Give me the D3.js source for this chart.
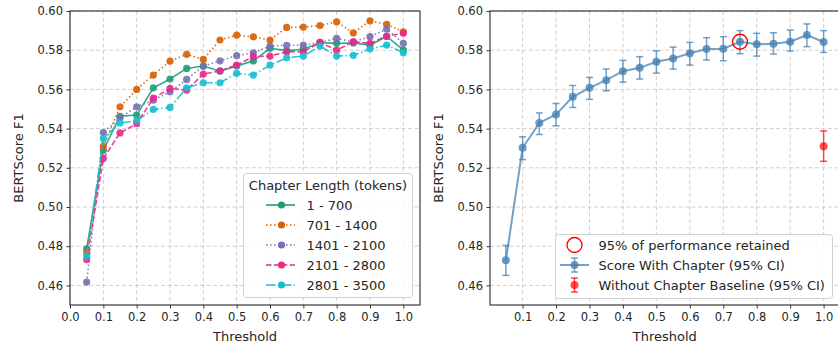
<!DOCTYPE html>
<html>
<head>
<meta charset="utf-8">
<script src="https://cdn.jsdelivr.net/npm/d3@7"></script>
<style>
  body { margin: 0; background: #fff; }
  svg { display: block; font-family: "DejaVu Sans", sans-serif; }
</style>
</head>
<body>
<svg id="chart" width="838" height="345"></svg>
<script>
// thresholds on the x axis
const thresholds = [0.05, 0.1, 0.15, 0.2, 0.25, 0.3, 0.35, 0.4, 0.45, 0.5,
                    0.55, 0.6, 0.65, 0.7, 0.75, 0.8, 0.85, 0.9, 0.95, 1.0];

// left panel: BERTScore by chapter length bucket
const lengthLabels = ['1 - 700', '701 - 1400', '1401 - 2100', '2101 - 2800', '2801 - 3500'];
const len1to700 = [0.4787, 0.529, 0.5463, 0.5469, 0.5608, 0.5653, 0.5707, 0.5719, 0.5693, 0.572,
                   0.5745, 0.581, 0.5798, 0.5805, 0.5838, 0.5835, 0.5837, 0.5826, 0.587, 0.5802];
const len701to1400 = [0.4765, 0.531, 0.5511, 0.560, 0.5673, 0.5744, 0.5779, 0.5753, 0.5852, 0.5877,
                      0.5868, 0.5852, 0.5916, 0.5918, 0.5926, 0.5945, 0.5888, 0.595, 0.5932, 0.5894];
const len1401to2100 = [0.4617, 0.538, 0.5455, 0.5511, 0.5545, 0.5588, 0.5651, 0.5719, 0.5746, 0.5772,
                       0.5787, 0.5821, 0.5825, 0.5826, 0.584, 0.586, 0.5843, 0.5869, 0.5908, 0.5835];
const len2101to2800 = [0.4731, 0.5247, 0.5378, 0.5425, 0.5555, 0.5605, 0.5596, 0.5678, 0.5695, 0.5724,
                       0.5767, 0.577, 0.5792, 0.5792, 0.584, 0.580, 0.5843, 0.5835, 0.5872, 0.5886];
const len2801to3500 = [0.4748, 0.535, 0.5429, 0.544, 0.5498, 0.5508, 0.5608, 0.5634, 0.5634, 0.5682,
                       0.5673, 0.5724, 0.5761, 0.577, 0.5821, 0.577, 0.5774, 0.5806, 0.5826, 0.5787];

// right panel: overall score with chapter and 95% CI
const scoreWithChapter = [0.4728, 0.5302, 0.5429, 0.5472, 0.5562, 0.5608, 0.5647, 0.5693, 0.571, 0.5741,
                          0.5758, 0.5784, 0.5806, 0.5808, 0.5843, 0.583, 0.5833, 0.5843, 0.5877, 0.5842];
const ciLow = [0.4651, 0.5242, 0.537, 0.5414, 0.5508, 0.5549, 0.5593, 0.5637, 0.5653, 0.5683,
               0.5704, 0.5724, 0.575, 0.5746, 0.5782, 0.577, 0.578, 0.5796, 0.5818, 0.5789];
const ciHigh = [0.4804, 0.5358, 0.548, 0.5528, 0.562, 0.5661, 0.5704, 0.5748, 0.5767, 0.5797,
                0.5816, 0.584, 0.5864, 0.5869, 0.59, 0.5886, 0.5889, 0.5903, 0.5934, 0.59];
const baselineX = 1.0;
const baselineScore = 0.531, baselineLow = 0.5233, baselineHigh = 0.5388;
const retainedThreshold = 0.75;

const yTicks = [0.46, 0.48, 0.50, 0.52, 0.54, 0.56, 0.58, 0.60];
const leftXTicks = [0, 0.1, 0.2, 0.3, 0.4, 0.5, 0.6, 0.7, 0.8, 0.9, 1.0];
const rightXTicks = [0.1, 0.2, 0.3, 0.4, 0.5, 0.6, 0.7, 0.8, 0.9, 1.0];

const seriesColors = ['#1b9e77', '#d95f02', '#7570b3', '#e7298a', '#17becf'];
const seriesDash = [null, '1.5,2.5', '1.5,2.5', '5.5,2.4', '9.6,2.4,1.5,2.4'];

const svg = d3.select('#chart');
const plotTop = 11, plotBottom = 305;
const spine = '#3a3a3a';

const y = d3.scaleLinear().domain([0.45, 0.60]).range([plotBottom, plotTop]);

function drawFrame(x, ticks, left, right, ylabelX) {
  const g = svg.append('g');
  // grid
  g.selectAll('.gx').data(ticks).enter().append('line')
    .attr('x1', d => x(d)).attr('x2', d => x(d)).attr('y1', plotTop).attr('y2', plotBottom)
    .attr('stroke', '#c4c4c4').attr('stroke-width', 0.8).attr('stroke-dasharray', '4,2.5');
  g.selectAll('.gy').data(yTicks).enter().append('line')
    .attr('x1', left).attr('x2', right).attr('y1', d => y(d)).attr('y2', d => y(d))
    .attr('stroke', '#c4c4c4').attr('stroke-width', 0.8).attr('stroke-dasharray', '4,2.5');

  const xAxis = g.append('g').attr('transform', `translate(0,${plotBottom})`)
    .call(d3.axisBottom(x).tickValues(ticks).tickFormat(d3.format('.1f')).tickSize(3.5).tickPadding(4.5));
  const yAxis = g.append('g').attr('transform', `translate(${left},0)`)
    .call(d3.axisLeft(y).tickValues(yTicks).tickFormat(d3.format('.2f')).tickSize(3.5).tickPadding(3.5));
  [xAxis, yAxis].forEach(a => {
    a.select('.domain').remove();
    a.selectAll('line').attr('stroke', spine).attr('stroke-width', 1);
    a.selectAll('text').attr('fill', '#262626').style('font-size', '11.5px').style('font-family', 'DejaVu Sans');
  });

  g.append('rect').attr('x', left).attr('y', plotTop).attr('width', right - left).attr('height', plotBottom - plotTop)
    .attr('fill', 'none').attr('stroke', spine).attr('stroke-width', 1.2);

  g.append('text').attr('x', (left + right) / 2).attr('y', 341)
    .attr('text-anchor', 'middle').attr('fill', '#262626').style('font-size', '13px').text('Threshold');
  g.append('text').attr('transform', `translate(${ylabelX},${(plotTop + plotBottom) / 2}) rotate(-90)`)
    .attr('text-anchor', 'middle').attr('dy', '0.35em').attr('fill', '#262626').style('font-size', '13px')
    .text('BERTScore F1');
  return g;
}

// ---------- left panel ----------
const xL = d3.scaleLinear().domain([0, 1.05]).range([70, 420]);
drawFrame(xL, leftXTicks, 70, 420, 18);

const lengthSeries = [len1to700, len701to1400, len1401to2100, len2101to2800, len2801to3500];
const lineL = d3.line().x((d, i) => xL(thresholds[i])).y(d => y(d));
const gL = svg.append('g');
lengthSeries.forEach((vals, k) => {
  gL.append('path').datum(vals)
    .attr('d', lineL).attr('fill', 'none')
    .attr('stroke', seriesColors[k]).attr('stroke-width', 1.6)
    .attr('stroke-dasharray', seriesDash[k]).attr('opacity', 0.9);
  gL.selectAll(null).data(vals).enter().append('circle')
    .attr('cx', (d, i) => xL(thresholds[i])).attr('cy', d => y(d)).attr('r', 3.6)
    .attr('fill', seriesColors[k]).attr('opacity', 0.9);
});

// left legend
const legL = svg.append('g');
legL.append('rect').attr('x', 243.5).attr('y', 173.5).attr('width', 169).attr('height', 124).attr('rx', 3)
  .attr('fill', 'rgba(255,255,255,0.85)').attr('stroke', '#d0d0d0');
legL.append('text').attr('x', 328).attr('y', 185).attr('dy', '0.35em').attr('text-anchor', 'middle')
  .attr('fill', '#262626').style('font-size', '13px').text('Chapter Length (tokens)');
lengthLabels.forEach((lab, k) => {
  const ly = 205 + k * 20;
  legL.append('line').attr('x1', 266).attr('x2', 295).attr('y1', ly).attr('y2', ly)
    .attr('stroke', seriesColors[k]).attr('stroke-width', 1.6).attr('stroke-dasharray', seriesDash[k]);
  legL.append('circle').attr('cx', 281.5).attr('cy', ly).attr('r', 3.6).attr('fill', seriesColors[k]);
  legL.append('text').attr('x', 306.5).attr('y', ly).attr('dy', '0.35em')
    .attr('fill', '#262626').style('font-size', '13px').text(lab);
});

// ---------- right panel ----------
const xR = d3.scaleLinear().domain([0.0025, 1.0475]).range([490, 839.5]);
drawFrame(xR, rightXTicks, 490, 839.5, 438);

const blue = '#4682b4';
const gR = svg.append('g');
const lineR = d3.line().x((d, i) => xR(thresholds[i])).y(d => y(d));
gR.append('path').datum(scoreWithChapter).attr('d', lineR).attr('fill', 'none')
  .attr('stroke', blue).attr('stroke-width', 2).attr('opacity', 0.75);

function errorBar(g, cx, lo, hi, color, op) {
  g.append('line').attr('x1', cx).attr('x2', cx).attr('y1', y(lo)).attr('y2', y(hi))
    .attr('stroke', color).attr('stroke-width', 1.5).attr('opacity', op);
  [lo, hi].forEach(v => g.append('line').attr('x1', cx - 3.5).attr('x2', cx + 3.5)
    .attr('y1', y(v)).attr('y2', y(v)).attr('stroke', color).attr('stroke-width', 1.5).attr('opacity', op));
}
thresholds.forEach((t, i) => errorBar(gR, xR(t), ciLow[i], ciHigh[i], blue, 0.75));
gR.selectAll(null).data(scoreWithChapter).enter().append('circle')
  .attr('cx', (d, i) => xR(thresholds[i])).attr('cy', d => y(d)).attr('r', 4)
  .attr('fill', blue).attr('opacity', 0.8);

errorBar(gR, xR(baselineX), baselineLow, baselineHigh, '#ff0000', 0.7);
gR.append('circle').attr('cx', xR(baselineX)).attr('cy', y(baselineScore)).attr('r', 4)
  .attr('fill', '#ff0000').attr('opacity', 0.7);

const ri = thresholds.indexOf(retainedThreshold);
gR.append('circle').attr('cx', xR(retainedThreshold)).attr('cy', y(scoreWithChapter[ri])).attr('r', 7.5)
  .attr('fill', 'none').attr('stroke', '#ff0000').attr('stroke-width', 1.3);

// right legend
const legR = svg.append('g');
legR.append('rect').attr('x', 555.5).attr('y', 234.5).attr('width', 277).attr('height', 64).attr('rx', 3)
  .attr('fill', 'rgba(255,255,255,0.85)').attr('stroke', '#d0d0d0');
const rItems = ['95% of performance retained', 'Score With Chapter (95% CI)', 'Without Chapter Baseline (95% CI)'];
rItems.forEach((lab, k) => {
  const ly = 245 + k * 20;
  const hx = 574.5;
  if (k === 0) {
    legR.append('circle').attr('cx', hx).attr('cy', ly).attr('r', 7.5)
      .attr('fill', 'none').attr('stroke', '#ff0000').attr('stroke-width', 1.3);
  } else if (k === 1) {
    legR.append('line').attr('x1', 560).attr('x2', 589).attr('y1', ly).attr('y2', ly)
      .attr('stroke', blue).attr('stroke-width', 2).attr('opacity', 0.75);
    legR.append('line').attr('x1', hx).attr('x2', hx).attr('y1', ly - 7).attr('y2', ly + 7)
      .attr('stroke', blue).attr('stroke-width', 1.5).attr('opacity', 0.75);
    [ly - 7, ly + 7].forEach(v => legR.append('line').attr('x1', hx - 3.5).attr('x2', hx + 3.5)
      .attr('y1', v).attr('y2', v).attr('stroke', blue).attr('stroke-width', 1.5).attr('opacity', 0.75));
    legR.append('circle').attr('cx', hx).attr('cy', ly).attr('r', 4).attr('fill', blue).attr('opacity', 0.8);
  } else {
    legR.append('line').attr('x1', hx).attr('x2', hx).attr('y1', ly - 7).attr('y2', ly + 7)
      .attr('stroke', '#ff0000').attr('stroke-width', 1.5).attr('opacity', 0.7);
    [ly - 7, ly + 7].forEach(v => legR.append('line').attr('x1', hx - 3.5).attr('x2', hx + 3.5)
      .attr('y1', v).attr('y2', v).attr('stroke', '#ff0000').attr('stroke-width', 1.5).attr('opacity', 0.7));
    legR.append('circle').attr('cx', hx).attr('cy', ly).attr('r', 4).attr('fill', '#ff0000').attr('opacity', 0.7);
  }
  legR.append('text').attr('x', 598.5).attr('y', ly).attr('dy', '0.35em')
    .attr('fill', '#262626').style('font-size', '13px').text(lab);
});
</script>
</body>
</html>
